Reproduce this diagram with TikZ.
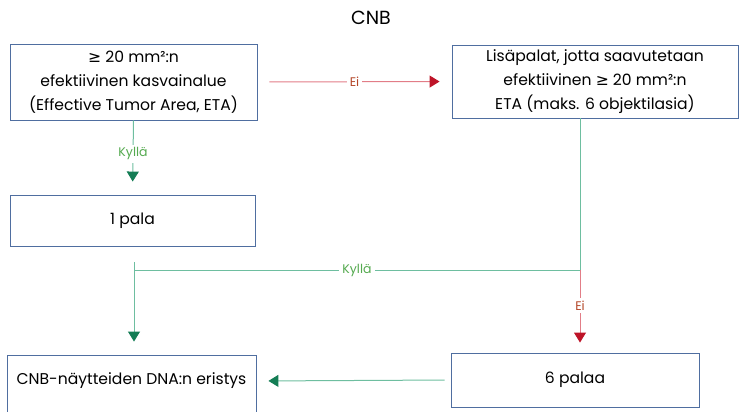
\documentclass[tikz,border=0pt]{standalone}
\usepackage{fontspec}
\setmainfont{Poppins}
\newfontfamily\symf{DejaVu Sans}
\usetikzlibrary{arrows.meta,calc}
\definecolor{boxc}{RGB}{79,110,160}
\definecolor{redl}{RGB}{226,125,135}
\definecolor{reda}{RGB}{190,20,40}
\definecolor{grnl}{RGB}{110,190,160}
\definecolor{grna}{RGB}{20,125,85}
\definecolor{grnt}{RGB}{85,170,80}
\definecolor{redt}{RGB}{180,70,40}
\tikzset{
  box/.style={draw=boxc, line width=0.9pt, fill=white, align=center, inner sep=0pt, font=\fontsize{15.6}{24}\selectfont},
  redline/.style={draw=redl, line width=1pt, -{Triangle[length=10pt,width=12pt,color=reda,fill=reda]}},
  grnline/.style={draw=grnl, line width=1pt, -{Triangle[length=10pt,width=12pt,color=grna,fill=grna]}},
  grnplain/.style={draw=grnl, line width=1pt},
  lbl/.style={fill=white, inner sep=3pt, font=\fontsize{12.5}{14}\selectfont},
}
\begin{document}
\begin{tikzpicture}[x=1pt,y=-1pt]
\useasboundingbox (0,0) rectangle (742,412);
\node (title) at (371,18) {\fontsize{19}{22}\selectfont CNB};
\node[box, minimum width=247pt, minimum height=76pt] (b1) at (133.5,82) {{\symf ≥} 20 mm²:n\\efektiivinen kasvainalue\\(Effective Tumor Area, ETA)};
\node[box, minimum width=286pt, minimum height=73pt] (b2) at (595,81.5) {Lisäpalat, jotta saavutetaan\\efektiivinen {\symf ≥} 20 mm²:n\\ETA (maks. 6 objektilasia)};
\node[box, minimum width=245pt, minimum height=51pt] (p1) at (132.5,220.5) {1 pala};
\node[box, minimum width=248pt, minimum height=54pt] (p6) at (575,380) {6 palaa};
\node[box, minimum width=249pt, minimum height=60pt] (cnb) at (131.5,385) {};
\node[font=\fontsize{15.6}{24}\selectfont] (cnbt) at (131.5,381) {CNB-näytteiden DNA:n eristys};
\coordinate (j) at (580,270);
\coordinate (h) at (134,270);
\coordinate (k) at (134,262);
\draw[redline, shorten <=12pt, shorten >=12pt] (b1.east) -- node[lbl, text=redt] (ei1) {Ei} (b2.west);
\draw[grnline, shorten >=13pt] (b1.south) -- node[lbl, text=grnt, pos=0.45] (ky1) {Kyllä} (p1.north);
\draw[grnplain] (b2.south -| j) -- (j);
\draw[grnplain] (j) -- node[lbl, text=grnt] (ky2) {Kyllä} (h);
\draw[grnline, shorten >=13pt] (k) -- (cnb.north -| k);
\draw[redline, shorten >=10pt] (j) -- node[lbl, text=redt, pos=0.43] (ei2) {Ei} (j |- p6.north);
\draw[grnline, shorten <=6pt, shorten >=12pt] (p6.west) -- (cnbt.east -| cnb.east);
\end{tikzpicture}
\end{document}
